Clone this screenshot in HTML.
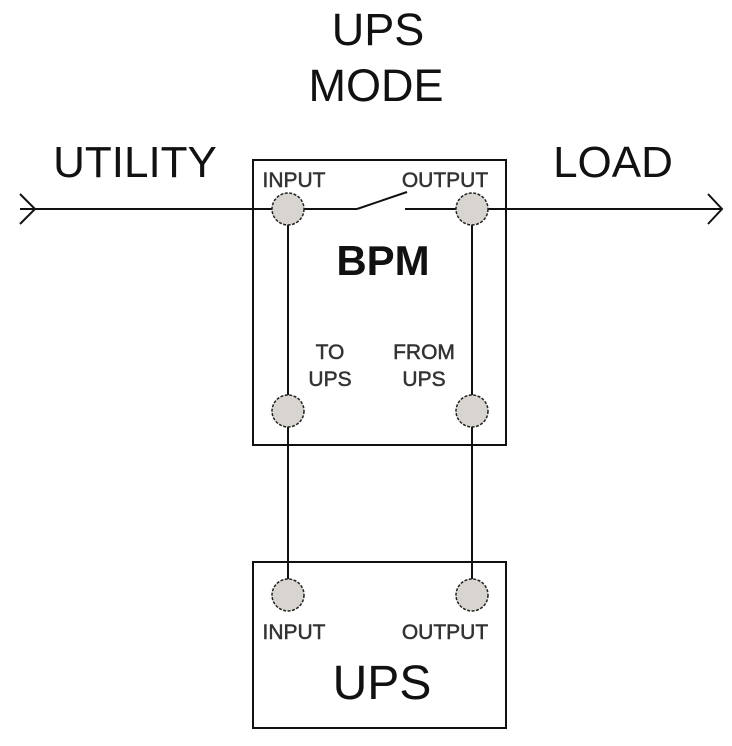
<!DOCTYPE html>
<html><head><style>body{margin:0;background:#fff}</style></head><body>
<svg width="732" height="741" xmlns="http://www.w3.org/2000/svg" font-family="Liberation Sans, sans-serif">
<rect width="732" height="741" fill="#fff"/>
<g fill="#111" text-anchor="middle">
<text x="378" y="45" font-size="45">UPS</text>
<text x="376" y="101" font-size="45">MODE</text>
<text x="135" y="177" font-size="44">UTILITY</text>
<text x="613" y="177" font-size="44">LOAD</text>
<text x="383" y="275" font-size="42" font-weight="bold">BPM</text>
<text x="382" y="699" font-size="48">UPS</text>
</g>
<g fill="#333" stroke="#333" stroke-width="0.5" font-size="21" text-anchor="middle">
<text x="294" y="187">INPUT</text>
<text x="445" y="187">OUTPUT</text>
<text x="330" y="359">TO</text>
<text x="330" y="386">UPS</text>
<text x="424" y="359">FROM</text>
<text x="424" y="386">UPS</text>
<text x="294" y="639">INPUT</text>
<text x="445" y="639">OUTPUT</text>
</g>
<g stroke="#111" stroke-width="2" fill="none">
<rect x="253" y="160" width="253" height="285"/>
<rect x="253" y="562" width="253" height="166"/>
<line x1="20" y1="209" x2="357" y2="209"/>
<line x1="357" y1="209" x2="407" y2="192"/>
<line x1="405" y1="209" x2="722" y2="209"/>
<polyline points="20,194 35,209 20,224"/>
<polyline points="708,194 722,209 708,224"/>
<line x1="288" y1="209" x2="288" y2="595"/>
<line x1="472" y1="209" x2="472" y2="595"/>
</g>
<g fill="#d8d4cf" stroke="#222" stroke-width="1.5" stroke-dasharray="3,1.5">
<circle cx="288" cy="209" r="16"/>
<circle cx="472" cy="209" r="16"/>
<circle cx="288" cy="411" r="16"/>
<circle cx="472" cy="411" r="16"/>
<circle cx="288" cy="595" r="16"/>
<circle cx="472" cy="595" r="16"/>
</g>
</svg>
</body></html>
